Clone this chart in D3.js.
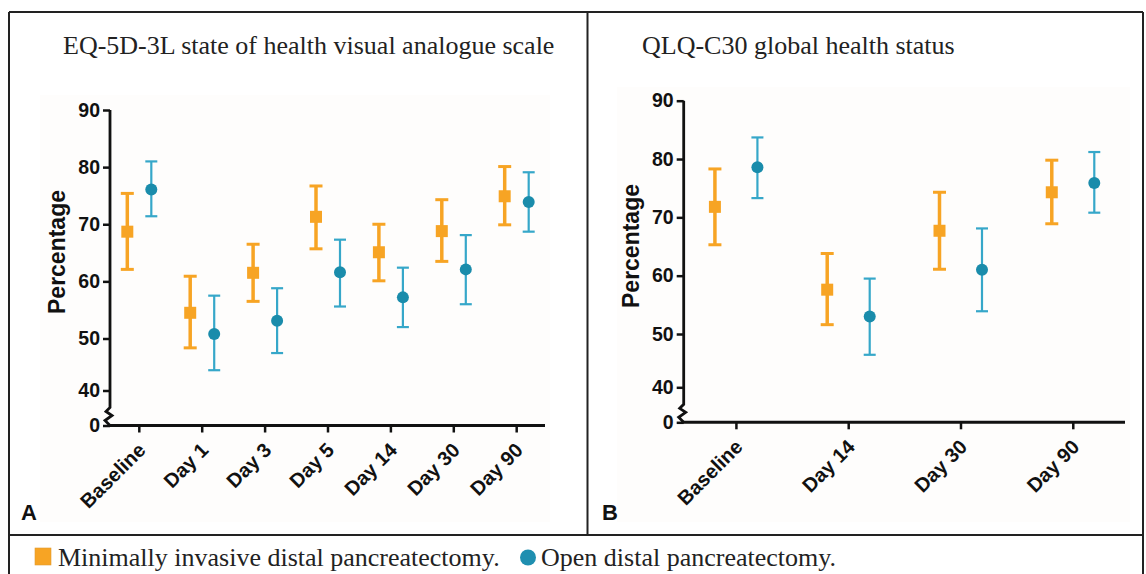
<!DOCTYPE html>
<html><head><meta charset="utf-8">
<script src="https://cdn.jsdelivr.net/npm/d3@7"></script>
<style>html,body{margin:0;padding:0;background:#fff;}</style>
</head><body>
<script>
// ---------- DATA ----------
const catsA = ["Baseline","Day 1","Day 3","Day 5","Day 14","Day 30","Day 90"];
const midA_mean = [68.7, 54.5, 61.5, 71.3, 65.1, 68.8, 74.9];
const midA_low  = [62.1, 48.2, 56.5, 65.7, 60.1, 63.5, 69.9];
const midA_high = [75.4, 60.9, 66.5, 76.7, 70.0, 74.3, 80.1];
const odpA_mean = [76.1, 50.8, 53.1, 61.6, 57.2, 62.1, 73.9];
const odpA_low  = [71.4, 43.9, 47.2, 55.6, 52.0, 56.0, 68.7];
const odpA_high = [81.0, 57.5, 58.8, 67.3, 62.4, 68.1, 79.1];

const catsB = ["Baseline","Day 14","Day 30","Day 90"];
const midB_mean = [71.8, 57.6, 67.7, 74.3];
const midB_low  = [65.3, 51.6, 61.1, 68.9];
const midB_high = [78.3, 63.8, 74.3, 79.8];
const odpB_mean = [78.6, 53.0, 61.0, 75.9];
const odpB_low  = [73.3, 46.1, 53.9, 70.8];
const odpB_high = [83.7, 59.5, 68.1, 81.2];

const yTicks = [0, 40, 50, 60, 70, 80, 90];
const titleA = "EQ-5D-3L state of health visual analogue scale";
const titleB = "QLQ-C30 global health status";
const legendLabels = ["Minimally invasive distal pancreatectomy.", "Open distal pancreatectomy."];

// ---------- STYLE ----------
const W = 1146, H = 574;
const ORANGE = "#f7a424", BLUE_DOT = "#1a8cab", BLUE_BAR = "#36a7c9";
const SANS = "'Liberation Sans', Arial, Helvetica, sans-serif";
const SERIF = "'Liberation Serif', 'Times New Roman', serif";

const svg = d3.select("body").append("svg").attr("width", W).attr("height", H);

// frame lines
const frame = svg.append("g").attr("stroke", "#222").attr("stroke-width", 2).attr("fill", "none");
frame.append("line").attr("x1", 9).attr("x2", 1143).attr("y1", 12).attr("y2", 12);
frame.append("line").attr("x1", 9).attr("x2", 9).attr("y1", 12).attr("y2", 574);
frame.append("line").attr("x1", 1143).attr("x2", 1143).attr("y1", 12).attr("y2", 574);
frame.append("line").attr("x1", 587.5).attr("x2", 587.5).attr("y1", 12).attr("y2", 535);
frame.append("line").attr("x1", 9).attr("x2", 1143).attr("y1", 535).attr("y2", 535);

function panel(cfg) {
  const g = svg.append("g");
  // very light plot background
  g.append("rect").attr("x", cfg.bg[0]).attr("y", cfg.bg[1]).attr("width", cfg.bg[2]).attr("height", cfg.bg[3])
    .attr("fill", "#fefdfc");
  // title
  g.append("text").attr("x", cfg.titleX).attr("y", 53.5).attr("font-family", SERIF)
    .attr("font-size", 26).attr("fill", "#222").text(cfg.title);

  const y = d3.scaleLinear().domain([0, 40, 50, 90]).range(cfg.yRange);
  const x = d3.scalePoint().domain(cfg.cats).range([cfg.x0, cfg.x1]).padding(cfg.pad);
  const y0 = y(0);

  // y axis ticks/labels
  const ya = g.append("g").attr("transform", `translate(${cfg.x0},0)`)
    .call(d3.axisLeft(y).tickValues(yTicks).tickSize(7).tickPadding(3).tickFormat(d3.format("d")));
  ya.select(".domain").remove();
  ya.selectAll(".tick line").attr("stroke", "#111").attr("stroke-width", 2.5);
  ya.selectAll(".tick text").attr("font-family", SANS).attr("font-weight", "bold")
    .attr("font-size", 19.5).attr("fill", "#111");

  // y axis line with break
  const ax = cfg.x0, yb = y(40);
  const path = d3.path();
  path.moveTo(ax, y(90));
  path.lineTo(ax, yb + 17);
  path.lineTo(ax - 4, yb + 21);
  path.lineTo(ax + 2, yb + 25);
  path.lineTo(ax - 5, yb + 30);
  path.lineTo(ax, y0);
  g.append("path").attr("d", path.toString()).attr("fill", "none").attr("stroke", "#111").attr("stroke-width", 2.8);

  // x axis
  const xa = g.append("g").attr("transform", `translate(0,${y0})`)
    .call(d3.axisBottom(x).tickSize(7).tickFormat(""));
  xa.select(".domain").attr("d", `M${cfg.x0 - 2},0H${cfg.x1}`).attr("stroke", "#111").attr("stroke-width", 3);
  xa.selectAll(".tick line").attr("stroke", "#111").attr("stroke-width", 2.5);
  g.selectAll(".xl").data(cfg.cats).enter().append("text")
    .attr("transform", d => `translate(${x(d) + 3},${y0 + 21}) rotate(-45)`)
    .attr("text-anchor", "end").attr("dy", "0.35em")
    .attr("font-family", SANS).attr("font-weight", "bold").attr("font-size", 20).attr("fill", "#111")
    .text(d => d);

  // y label
  g.append("text").attr("transform", `translate(${cfg.ylabX},${cfg.ylabY}) rotate(-90)`)
    .attr("text-anchor", "middle").attr("font-family", SANS).attr("font-weight", "bold")
    .attr("font-size", 23).attr("fill", "#111").text("Percentage");

  // panel letter
  g.append("text").attr("x", cfg.letterX).attr("y", 520).attr("font-family", SANS).attr("font-weight", "bold")
    .attr("font-size", 22).attr("fill", "#111").text(cfg.letter);

  const mid = cfg.cats.map((c, i) => ({c, m: cfg.mid[0][i], lo: cfg.mid[1][i], hi: cfg.mid[2][i]}));
  const odp = cfg.cats.map((c, i) => ({c, m: cfg.odp[0][i], lo: cfg.odp[1][i], hi: cfg.odp[2][i]}));

  // MIDP series (orange squares)
  const gm = g.append("g").attr("stroke", ORANGE).attr("stroke-width", 3.5);
  gm.selectAll(".v").data(mid).enter().append("line")
    .attr("x1", d => x(d.c) + cfg.offM).attr("x2", d => x(d.c) + cfg.offM)
    .attr("y1", d => y(d.lo)).attr("y2", d => y(d.hi));
  ["lo", "hi"].forEach(k => {
    gm.selectAll(".c" + k).data(mid).enter().append("line")
      .attr("x1", d => x(d.c) + cfg.offM - 6.5).attr("x2", d => x(d.c) + cfg.offM + 6.5)
      .attr("y1", d => y(d[k])).attr("y2", d => y(d[k])).attr("stroke-width", 3);
  });
  g.selectAll(".sq").data(mid).enter().append("rect")
    .attr("x", d => x(d.c) + cfg.offM - 6).attr("y", d => y(d.m) - 6)
    .attr("width", 12).attr("height", 12).attr("fill", ORANGE);

  // ODP series (blue circles)
  const gb = g.append("g").attr("stroke", BLUE_BAR).attr("stroke-width", 2.2);
  gb.selectAll(".v").data(odp).enter().append("line")
    .attr("x1", d => x(d.c) + cfg.offO).attr("x2", d => x(d.c) + cfg.offO)
    .attr("y1", d => y(d.lo)).attr("y2", d => y(d.hi));
  ["lo", "hi"].forEach(k => {
    gb.selectAll(".c" + k).data(odp).enter().append("line")
      .attr("x1", d => x(d.c) + cfg.offO - 6).attr("x2", d => x(d.c) + cfg.offO + 6)
      .attr("y1", d => y(d[k])).attr("y2", d => y(d[k]));
  });
  g.selectAll(".ci").data(odp).enter().append("circle")
    .attr("cx", d => x(d.c) + cfg.offO).attr("cy", d => y(d.m)).attr("r", 6)
    .attr("fill", BLUE_DOT);
}

panel({
  title: titleA, titleX: 63, cats: catsA,
  yRange: [425.5, 390.5, 338.5, 110], x0: 110, x1: 545, pad: 0.458,
  offM: -11.5, offO: 12.5, ylabX: 64.5, ylabY: 252, letter: "A", letterX: 21,
  bg: [40, 95, 510, 427],
  mid: [midA_mean, midA_low, midA_high], odp: [odpA_mean, odpA_low, odpA_high]
});
panel({
  title: titleB, titleX: 642, cats: catsB,
  yRange: [422.3, 387.3, 334, 100.7], x0: 683.7, x1: 1125, pad: 0.465,
  offM: -21, offO: 21.5, ylabX: 639, ylabY: 246, letter: "B", letterX: 602,
  bg: [617, 87, 513, 435],
  mid: [midB_mean, midB_low, midB_high], odp: [odpB_mean, odpB_low, odpB_high]
});

// legend
const lg = svg.append("g");
lg.append("rect").attr("x", 35).attr("y", 548).attr("width", 16).attr("height", 17).attr("fill", ORANGE)
  .attr("stroke", "#e09a30").attr("stroke-width", 0.6);
lg.append("text").attr("x", 58).attr("y", 566).attr("font-family", SERIF).attr("font-size", 26)
  .attr("fill", "#222").text(legendLabels[0]);
lg.append("circle").attr("cx", 528).attr("cy", 557.5).attr("r", 8).attr("fill", "#1f8fb0");
lg.append("text").attr("x", 541).attr("y", 566).attr("font-family", SERIF).attr("font-size", 26)
  .attr("fill", "#222").text(legendLabels[1]);
</script>
</body></html>
